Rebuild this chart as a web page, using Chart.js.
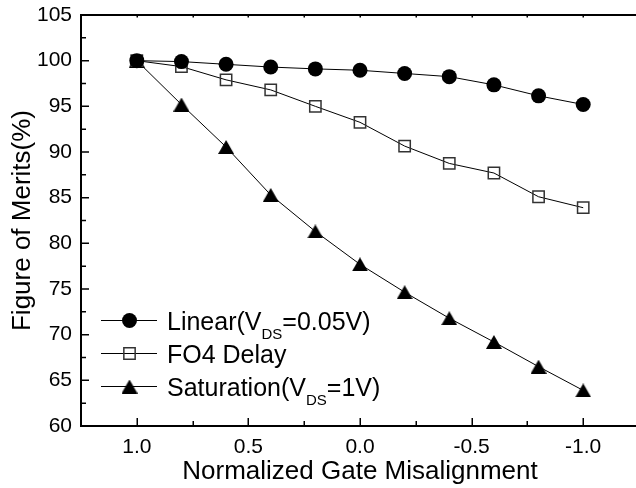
<!DOCTYPE html>
<html><head><meta charset="utf-8">
<script src="https://cdn.jsdelivr.net/npm/chart.js@4"></script>
<style>html,body{margin:0;padding:0;overflow:hidden;background:#fff}</style>
</head><body>
<canvas id="c" width="639" height="488" style="display:block;width:639px;height:488px"></canvas>
<script>
// ---- data ----
const misalignment = [1.0, 0.8, 0.6, 0.4, 0.2, 0.0, -0.2, -0.4, -0.6, -0.8, -1.0];
const linearVals = [100, 99.9, 99.6, 99.3, 99.1, 98.95, 98.6, 98.25, 97.35, 96.15, 95.2];
const fo4Vals = [100, 99.35, 97.9, 96.8, 95.0, 93.25, 90.65, 88.75, 87.7, 85.1, 83.9];
const satVals = [100, 95.2, 90.55, 85.3, 81.3, 77.7, 74.65, 71.8, 69.2, 66.5, 63.9];
const xTickVals = [1.0, 0.5, 0.0, -0.5, -1.0];
const xMinorVals = [1.0, 0.75, 0.5, 0.25, 0.0, -0.25, -0.5, -0.75, -1.0];
const yTickVals = [60, 65, 70, 75, 80, 85, 90, 95, 100, 105];
const yMinorVals = [62.5, 67.5, 72.5, 77.5, 82.5, 87.5, 92.5, 97.5, 102.5];
const legendLabels = [
  [['Linear(V', 0], ['DS', 1], ['=0.05V)', 0]],
  [['FO4 Delay', 0]],
  [['Saturation(V', 0], ['DS', 1], ['=1V)', 0]]
];
const xTitle = 'Normalized Gate Misalignment';
const yTitle = 'Figure of Merits(%)';

const FONT = "'Liberation Sans', Arial, sans-serif";

function triImg(w, h) {
  const c = document.createElement('canvas');
  c.width = w; c.height = h;
  const g = c.getContext('2d');
  g.fillStyle = '#000';
  g.beginPath(); g.moveTo(w / 2, 0); g.lineTo(w, h); g.lineTo(0, h); g.closePath(); g.fill();
  return c;
}
const tri = triImg(16, 14);

const toPts = vals => misalignment.map((x, i) => ({x: x, y: vals[i]}));
const noPad = s => { s.paddingLeft = 0; s.paddingRight = 0; s.paddingTop = 0; s.paddingBottom = 0; };

const frame = {
  id: 'frame',
  beforeDatasetsDraw(chart) {
    const ctx = chart.ctx, a = chart.chartArea;
    const xs = chart.scales.x, ys = chart.scales.y;
    ctx.save();
    ctx.strokeStyle = '#000';
    ctx.lineWidth = 2;
    ctx.beginPath();
    ctx.moveTo(a.left, a.top); ctx.lineTo(a.right, a.top);
    ctx.moveTo(a.left, a.top - 1); ctx.lineTo(a.left, a.bottom + 1);
    ctx.moveTo(a.left - 1, a.bottom); ctx.lineTo(a.right, a.bottom);
    ctx.stroke();
    ctx.lineWidth = 1.5;
    ctx.beginPath();
    xMinorVals.forEach(v => {
      const p = Math.round(xs.getPixelForValue(v)) + 0.25;
      const major = xTickVals.some(t => Math.abs(t - v) < 1e-9);
      ctx.moveTo(p, a.bottom); ctx.lineTo(p, a.bottom - (major ? 8 : 5));
      ctx.moveTo(p, a.top); ctx.lineTo(p, a.top + 2.5);
    });
    yTickVals.forEach(v => {
      const p = ys.getPixelForValue(v);
      ctx.moveTo(a.left, p); ctx.lineTo(a.left + 8, p);
    });
    yMinorVals.forEach(v => {
      const p = ys.getPixelForValue(v);
      ctx.moveTo(a.left, p); ctx.lineTo(a.left + 5, p);
    });
    ctx.stroke();
    ctx.restore();
  }
};

const legendPlugin = {
  id: 'customLegend',
  afterDatasetsDraw(chart) {
    const ctx = chart.ctx;
    const rows = [320, 353, 386];
    const mx = 129.5;
    ctx.save();
    chart.data.datasets.forEach((ds, i) => {
      const y = rows[i] + 0.5;
      ctx.strokeStyle = '#000'; ctx.lineWidth = 1;
      ctx.beginPath(); ctx.moveTo(101, y); ctx.lineTo(157, y); ctx.stroke();
      if (typeof ds.pointStyle === 'string') {
        ctx.fillStyle = ds.pointBackgroundColor; ctx.strokeStyle = ds.pointBorderColor;
        ctx.lineWidth = ds.pointBorderWidth;
        ctx.beginPath();
        if (ds.pointStyle === 'circle') ctx.arc(mx, y, ds.pointRadius, 0, Math.PI * 2);
        else { const s = ds.pointRadius * Math.SQRT1_2; ctx.rect(mx - s, y - s, 2 * s, 2 * s); }
        ctx.fill(); if (ds.pointBorderWidth) ctx.stroke();
      } else {
        const im = ds.pointStyle;
        ctx.drawImage(im, mx - im.width / 2, y - im.height / 2);
      }
      let x = 167;
      ctx.fillStyle = '#000';
      ctx.textBaseline = 'alphabetic';
      legendLabels[i].forEach(([t, sub]) => {
        ctx.font = (sub ? '15px ' : '25px ') + FONT;
        ctx.fillText(t, x, sub ? y + 18 : y + 9);
        x += ctx.measureText(t).width;
      });
    });
    ctx.restore();
  }
};

new Chart(document.getElementById('c'), {
  type: 'line',
  data: {
    datasets: [
      {label: 'Linear', data: toPts(linearVals), borderColor: '#000', borderWidth: 1,
       pointStyle: 'circle', pointRadius: 7.5, pointBackgroundColor: '#000', pointBorderColor: '#000', pointBorderWidth: 0},
      {label: 'FO4 Delay', data: toPts(fo4Vals), borderColor: '#000', borderWidth: 1,
       pointStyle: 'rect', pointRadius: 8, pointBackgroundColor: 'rgba(0,0,0,0)', pointBorderColor: '#333', pointBorderWidth: 1.5},
      {label: 'Saturation', data: toPts(satVals), borderColor: '#000', borderWidth: 1,
       pointStyle: tri, pointRadius: 8, pointBackgroundColor: '#000', pointBorderColor: '#000', pointBorderWidth: 0}
    ]
  },
  options: {
    responsive: false,
    animation: false,
    devicePixelRatio: 1,
    layout: {autoPadding: false, padding: {top: 15, left: 0, right: 0, bottom: 0}},
    plugins: {legend: {display: false}, tooltip: {enabled: false}},
    elements: {line: {tension: 0}},
    scales: {
      x: {
        type: 'linear', reverse: true, min: -1.25, max: 1.25,
        afterBuildTicks: s => { s.ticks = xTickVals.map(v => ({value: v})); },
        afterFit: s => { s.height = 62; noPad(s); },
        grid: {display: false, drawTicks: false},
        border: {display: false},
        ticks: {color: '#000', font: {family: FONT, size: 21}, padding: 9, maxRotation: 0, autoSkip: false,
                callback: v => Number(v).toFixed(1)},
        title: {display: true, text: xTitle, color: '#000', font: {family: FONT, size: 26}, padding: {top: 1, bottom: 1}}
      },
      y: {
        min: 60, max: 105,
        afterBuildTicks: s => { s.ticks = yTickVals.map(v => ({value: v})); },
        afterFit: s => { s.width = 81; noPad(s); },
        grid: {display: false, drawTicks: false},
        border: {display: false},
        ticks: {color: '#000', font: {family: FONT, size: 21}, padding: 9, autoSkip: false},
        title: {display: true, text: yTitle, color: '#000', font: {family: FONT, size: 26}, padding: {top: 7, bottom: 7}}
      }
    }
  },
  plugins: [frame, legendPlugin]
});
</script>
</body></html>
